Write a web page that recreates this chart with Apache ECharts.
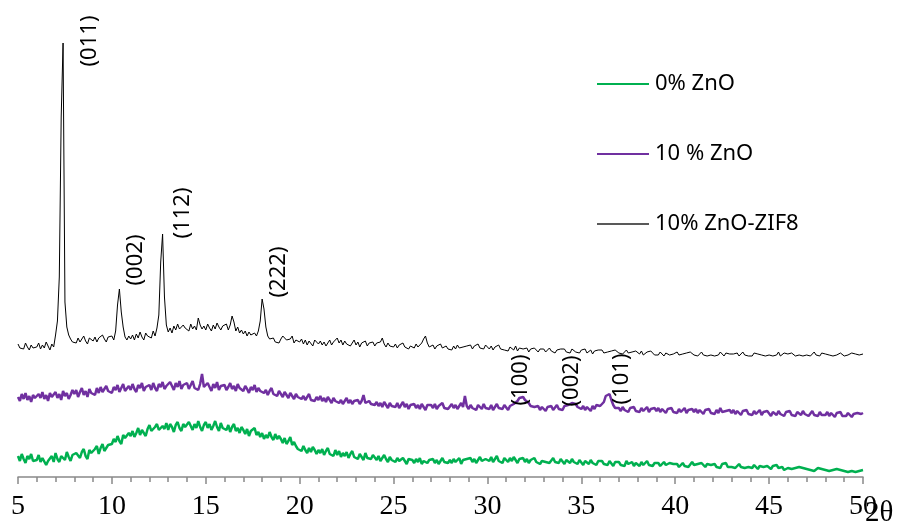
<!DOCTYPE html>
<html>
<head>
<meta charset="utf-8">
<script src="https://cdn.jsdelivr.net/npm/echarts@6/dist/echarts.min.js"></script>
<style>
  html, body { margin: 0; padding: 0; background: #fff; }
  #xrd { width: 897px; height: 524px; }
</style>
</head>
<body>
<div id="xrd"></div>
<script>
// 2θ grid of the scans (degrees)
var twoThetaStart = 5;
var twoThetaStep = 0.1;

var seriesNames = ['0% ZnO', '10 % ZnO', '10% ZnO-ZIF8'];

// intensity (arb. units, offset stacked), one row per degree
var zno0 = [
  21,16,23,18,14,21,18,23,16,14,
  17,22,15,19,21,12,16,14,21,15,
  24,18,15,21,23,17,25,20,16,22,
  20,24,26,19,25,28,21,18,27,24,
  24,28,31,23,29,33,26,24,32,30,
  33,38,35,41,36,33,42,39,37,44,
  41,46,40,44,49,42,47,45,41,48,
  52,46,44,50,53,47,45,51,48,54,
  47,53,50,45,52,55,49,46,53,50,
  48,55,51,47,53,49,56,50,46,52,
  55,49,53,47,51,56,50,46,54,49,
  51,47,52,45,50,53,46,49,44,50,
  47,43,48,41,46,44,49,42,45,40,
  44,38,42,39,45,40,37,43,38,41,
  38,34,39,33,36,40,32,35,31,28,
  30,26,31,27,24,29,25,30,27,23,
  27,24,28,22,26,29,23,25,21,27,
  22,26,20,24,21,25,19,23,26,20,
  22,18,23,20,17,24,19,21,18,22,
  20,17,21,16,19,22,18,15,20,17,
  18,15,19,16,14,19,17,13,18,16,
  17,14,18,15,19,13,16,18,14,17,
  15,18,14,17,13,16,19,15,17,14,
  17,14,18,15,16,19,13,17,15,18,
  16,19,15,18,14,17,20,16,15,18,
  19,16,20,15,17,21,16,18,14,19,
  18,15,19,16,20,17,14,18,16,19,
  15,18,14,17,16,19,15,17,13,16,
  18,15,17,14,16,19,15,17,14,18,
  16,13,17,15,14,18,15,16,13,17,
  15,12,16,14,13,17,14,15,12,16,
  14,16,13,15,12,16,14,11,15,13,
  15,12,14,11,16,13,12,15,11,14,
  13,11,15,12,14,16,12,13,11,14,
  12,14,11,13,15,12,10,14,12,13,
  11,13,10,12,14,11,13,10,12,15,
  12,10,13,11,14,12,10,13,11,12,
  11,13,10,12,9,13,11,14,10,12,
  10,12,9,11,13,10,12,9,11,10,
  11,9,12,10,8,11,13,10,9,11,
  10,8,11,9,12,9,8,10,7,9,
  9,11,8,10,9,7,10,8,9,7,
  8,10,7,9,6,8,9,7,8,6,
  7,9,6,8,7,5,8,6,7,8,
  6,8,5,7,6,8,5,7,6,8,
  7
];

var zno10 = [
  80,76,83,78,84,77,81,75,82,79,
  77,83,79,85,78,82,76,84,80,81,
  85,79,83,77,86,81,84,78,82,87,
  83,87,80,85,89,82,86,80,88,84,
  86,82,89,84,90,85,83,91,86,88,
  84,90,87,92,85,89,93,86,88,91,
  87,93,88,85,92,89,94,86,90,88,
  92,87,94,89,86,93,90,95,88,91,
  89,95,91,87,94,90,96,88,92,90,
  94,88,92,96,89,91,87,93,103,90,
  88,94,90,86,93,89,95,87,91,89,
  92,87,90,94,88,91,86,93,89,90,
  86,91,88,84,90,87,92,85,89,86,
  88,84,87,82,86,89,83,85,81,86,
  84,80,85,82,79,84,81,78,83,80,
  82,78,81,77,80,83,77,79,76,80,
  77,81,76,79,75,80,77,74,79,76,
  78,74,77,73,76,79,74,77,73,76,
  74,77,73,76,82,74,72,76,73,75,
  72,75,71,74,70,75,72,69,74,71,
  73,70,74,69,72,75,70,73,68,72,
  70,73,69,72,68,73,70,67,72,70,
  72,69,73,68,71,70,74,69,71,68,
  70,73,69,72,68,71,74,70,81,71,
  68,72,69,71,67,72,70,68,73,69,
  71,68,72,67,70,73,69,71,68,72,
  70,67,71,69,73,72,76,79,78,80,
  77,79,74,71,73,70,68,71,67,70,
  69,66,70,68,71,67,69,72,68,70,
  67,71,69,72,70,74,76,73,70,72,
  68,71,67,70,69,66,71,68,72,70,
  71,73,75,81,80,83,77,72,69,68,
  69,66,70,67,68,65,69,67,70,66,
  68,65,69,66,67,70,65,68,66,69,
  66,69,65,68,67,64,68,66,69,65,
  67,64,68,65,66,69,64,67,65,68,
  65,68,64,67,66,63,67,65,68,64,
  66,63,67,64,69,65,63,66,64,67,
  64,67,63,66,65,62,66,64,67,63,
  65,62,66,63,64,67,62,65,63,66,
  64,61,65,63,62,66,63,64,61,65,
  63,66,62,64,61,65,63,62,66,63,
  64,61,63,66,62,64,61,65,62,63,
  62,65,61,64,63,60,64,62,65,61,
  63,61,64,62,60,63,61,64,62,63,
  64
];

var znoZif8 = [
  133,129,131,128,134,130,127,132,129,131,
  130,134,128,132,129,135,131,127,133,130,
  142,156,200,360,434,175,150,142,138,135,
  137,134,139,135,138,141,136,133,139,137,
  136,140,135,139,137,142,138,135,140,138,
  141,137,146,172,188,165,150,140,137,141,
  138,142,137,143,139,145,140,137,144,141,
  143,139,146,141,149,162,215,243,180,152,
  145,149,144,151,147,153,148,146,152,149,
  150,146,153,148,151,147,159,152,148,151,
  147,153,149,146,152,148,154,150,147,151,
  149,153,147,152,161,155,146,150,144,147,
  143,146,141,145,142,140,144,141,146,156,
  178,168,150,141,138,136,139,135,137,134,
  138,141,143,137,135,138,141,134,137,139,
  135,138,133,137,132,136,134,131,137,135,
  133,136,132,135,131,134,137,132,135,133,
  139,134,137,132,136,133,135,131,134,137,
  132,135,130,134,133,136,131,134,132,135,
  131,134,132,135,139,133,130,134,131,133,
  130,133,129,132,131,134,130,132,128,131,
  132,129,133,130,131,134,138,141,134,130,
  129,132,128,131,130,133,129,127,131,128,
  130,127,131,128,132,129,127,130,128,131,
  129,132,128,131,130,133,129,131,128,132,
  130,128,131,127,130,129,132,128,130,127,
  129,126,130,128,127,131,126,129,127,128,
  127,129,125,128,126,129,127,125,128,126,
  128,125,127,129,126,128,124,127,125,128,
  126,128,125,127,124,128,126,125,127,124,
  127,125,128,124,126,127,123,126,125,127,
  125,127,124,126,125,123,126,124,127,125,
  124,126,123,125,127,124,122,125,123,126,
  125,123,126,122,124,125,123,126,124,122,
  124,122,125,123,121,124,126,122,124,123,
  123,125,122,124,123,121,124,122,125,123,
  122,124,121,123,125,122,124,121,123,122,
  124,121,123,122,125,123,121,124,122,123,
  121,123,122,124,121,123,125,122,123,121,
  123,121,124,122,123,121,122,124,121,123,
  122,124,121,123,122,125,121,123,124,122,
  123,121,124,122,121,123,122,124,121,123,
  122,124,121,123,125,122,123,121,124,122,
  123,121,122,124,121,123,122,121,124,122,
  121,123,122,121,124,122,123,121,122,124,
  123
];

// Miller index labels: [text, 2θ, intensity]
var zifPeakLabels = [
  ['(011)', 8.83, 436],
  ['(002)', 11.28, 217],
  ['(112)', 13.79, 264],
  ['(222)', 18.9, 205]
];
var znoPeakLabels = [
  ['(100)', 31.78, 97],
  ['(002)', 34.5, 96],
  ['(101)', 37.16, 98]
];

var xTicks = [5, 10, 15, 20, 25, 30, 35, 40, 45, 50];

var colors = ['#00B050', '#7030A0', '#000000'];
var serifFont = "'Liberation Serif', 'DejaVu Serif', serif";

function toPoints(vals) {
  return vals.map(function (v, i) {
    return [+(twoThetaStart + i * twoThetaStep).toFixed(2), v];
  });
}

function toMarks(labels) {
  return labels.map(function (p) {
    return { name: p[0], coord: [p[1], p[2]], value: p[0] };
  });
}

var markStyle = {
  symbol: 'circle',
  symbolSize: 0,
  silent: true,
  label: {
    show: true,
    position: 'inside',
    rotate: 90,
    formatter: '{b}',
    color: '#000',
    fontFamily: 'Noto Sans',
    fontSize: 22
  }
};

var xrd = echarts.init(document.getElementById('xrd'));

xrd.setOption({
  animation: false,
  backgroundColor: '#fff',
  grid: { left: 18, right: 34, top: 17, bottom: 47, outerBoundsMode: 'none' },
  legend: {
    data: seriesNames,
    orient: 'vertical',
    left: 592,
    top: 68,
    icon: 'rect',
    itemWidth: 52,
    itemHeight: 2,
    itemGap: 48,
    textStyle: { color: '#000', fontFamily: 'Noto Sans', fontSize: 22, padding: [0, 0, 0, 1] }
  },
  xAxis: {
    type: 'value',
    min: xTicks[0],
    max: xTicks[xTicks.length - 1],
    interval: 5,
    name: '2θ',
    nameLocation: 'end',
    nameGap: 2,
    nameMoveOverlap: false,
    nameTextStyle: { fontFamily: serifFont, fontSize: 29, color: '#000', verticalAlign: 'top', padding: [22, 0, 0, 0] },
    axisLine: { lineStyle: { color: '#898989', width: 1.5 } },
    axisTick: { length: 7, lineStyle: { color: '#898989', width: 1.5 } },
    minorTick: { show: true, splitNumber: 5, length: 5, lineStyle: { color: '#898989', width: 1.5 } },
    splitLine: { show: false },
    axisLabel: { fontFamily: serifFont, fontSize: 28, color: '#000', margin: 16 }
  },
  yAxis: {
    type: 'value',
    show: false,
    min: 0,
    max: 460
  },
  series: [
    {
      name: seriesNames[0],
      type: 'line',
      symbol: 'none',
      data: toPoints(zno0),
      lineStyle: { color: colors[0], width: 2.5 },
      itemStyle: { color: colors[0] }
    },
    {
      name: seriesNames[1],
      type: 'line',
      symbol: 'none',
      data: toPoints(zno10),
      lineStyle: { color: colors[1], width: 2.5 },
      itemStyle: { color: colors[1] },
      markPoint: Object.assign({ data: toMarks(znoPeakLabels) }, markStyle)
    },
    {
      name: seriesNames[2],
      type: 'line',
      symbol: 'none',
      data: toPoints(znoZif8),
      lineStyle: { color: colors[2], width: 1 },
      itemStyle: { color: '#595959' },
      markPoint: Object.assign({ data: toMarks(zifPeakLabels) }, markStyle)
    }
  ]
});
</script>
</body>
</html>
